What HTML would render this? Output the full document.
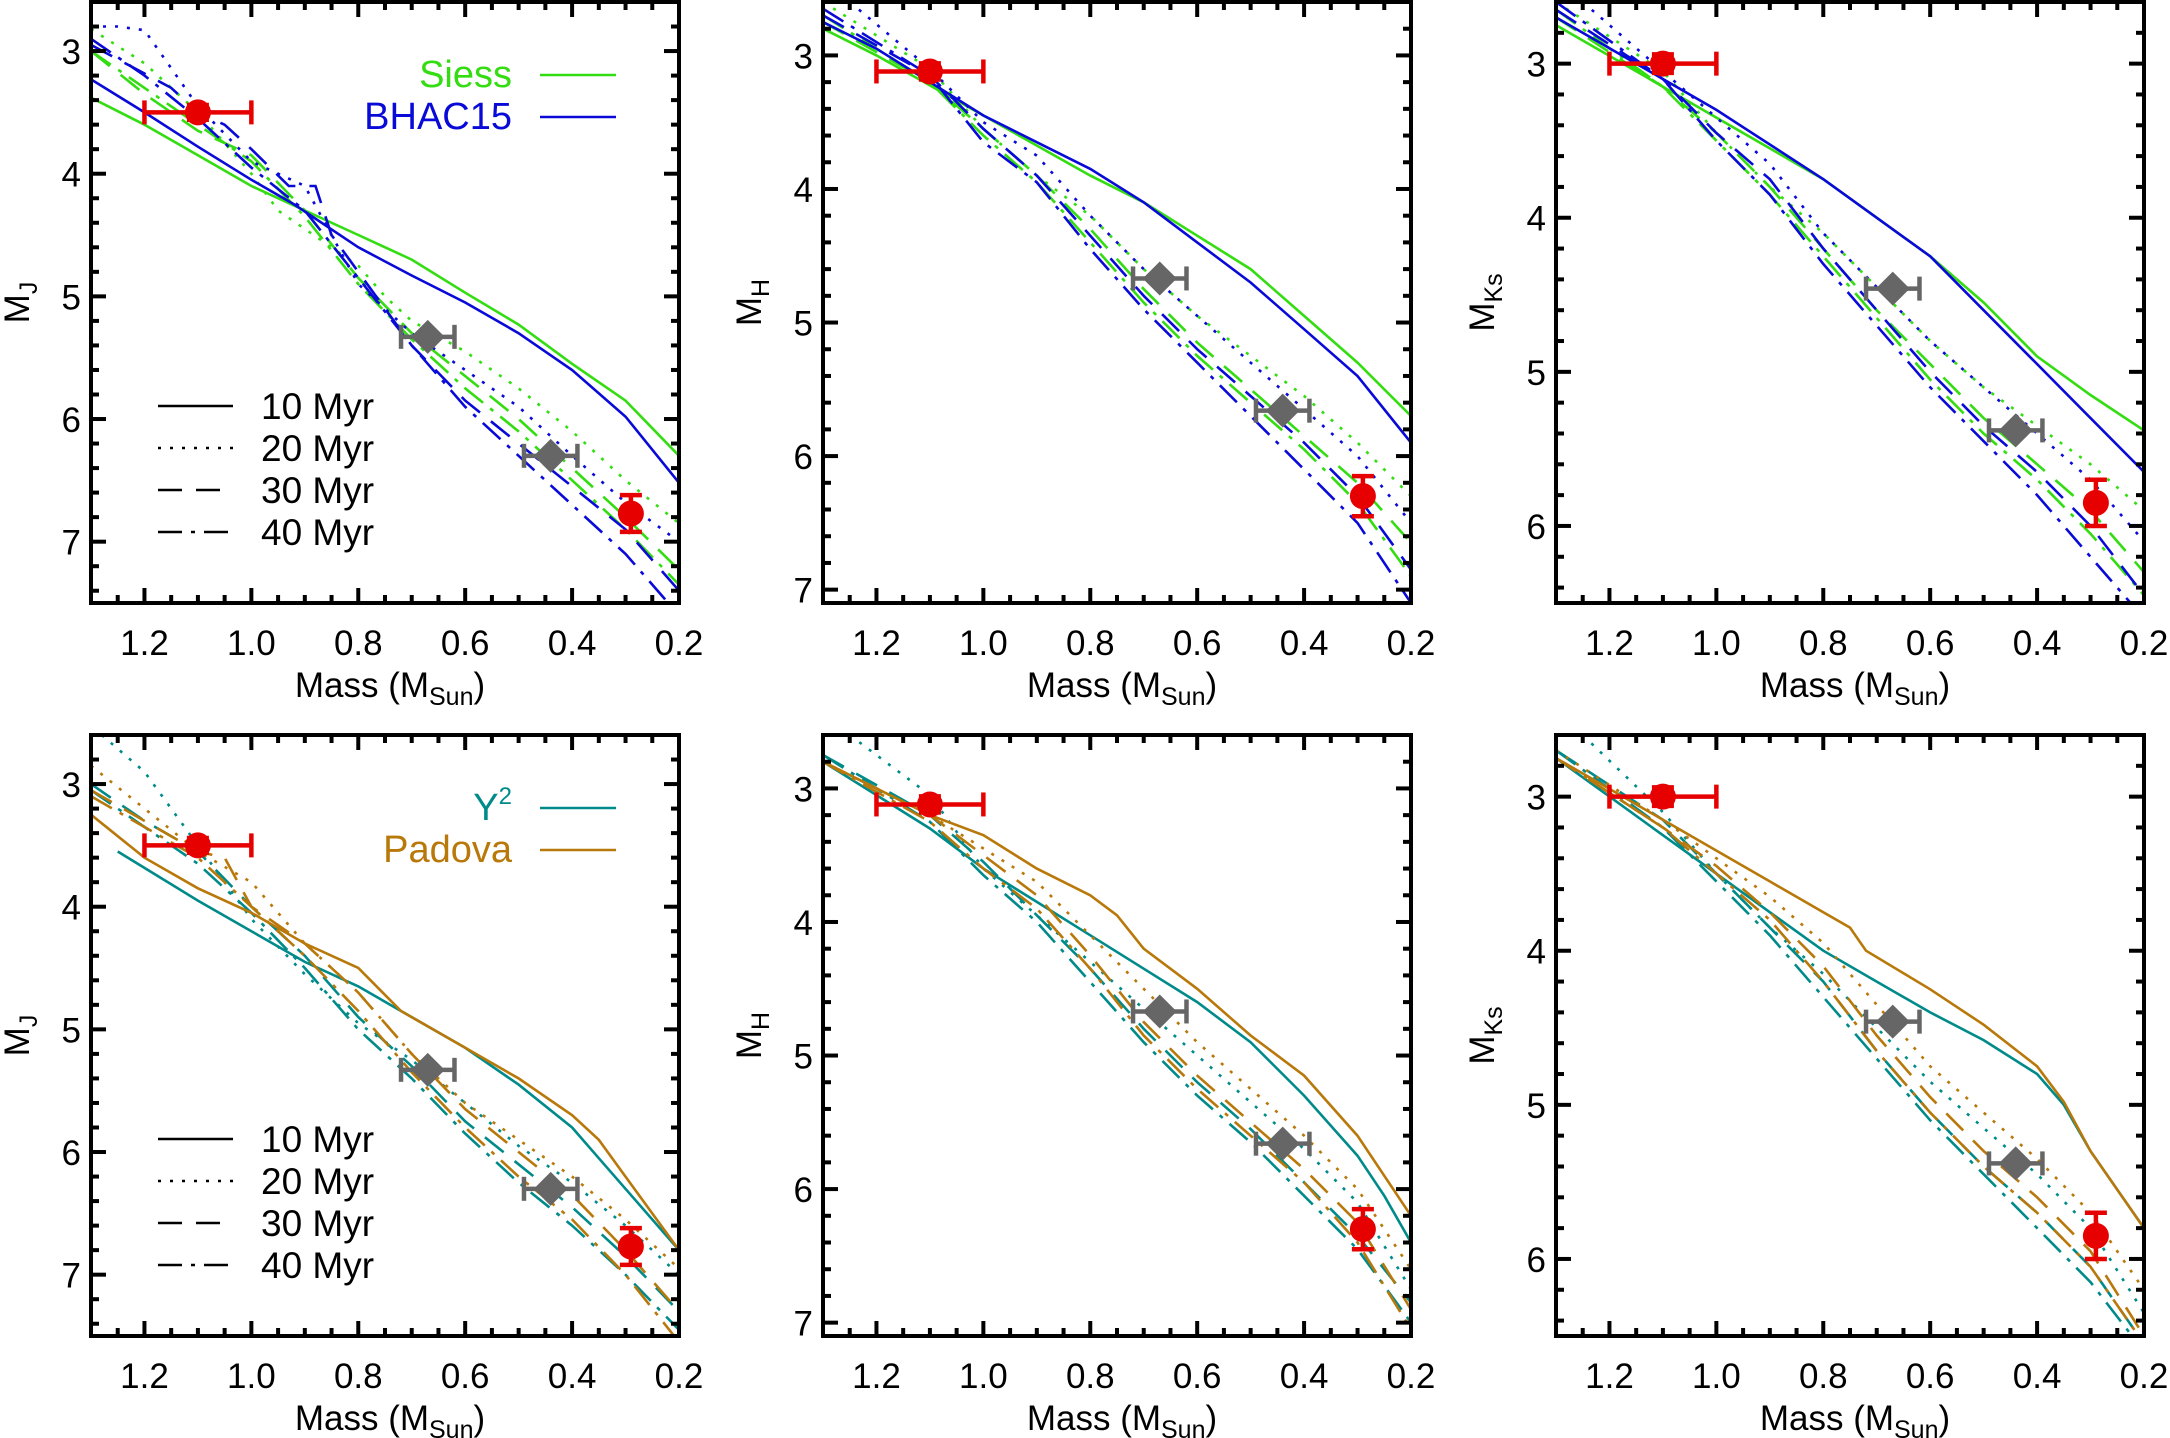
<!DOCTYPE html>
<html><head><meta charset="utf-8"><style>
html,body{margin:0;padding:0;background:#fff;}
svg{display:block;font-family:"Liberation Sans",Arial,sans-serif;}
</style></head><body>
<svg id="fig" width="2170" height="1438" viewBox="0 0 2170 1438" xmlns="http://www.w3.org/2000/svg"></svg>
<script>
// ---- data: [mass, absolute magnitude] ----
const siessJ10=[[1.3,3.38],[1.2,3.6],[1.1,3.85],[1.0,4.1],[0.9,4.3],[0.8,4.5],[0.7,4.7],[0.6,4.97],[0.5,5.23],[0.4,5.55],[0.3,5.85],[0.2,6.3]];
const siessJ20=[[1.3,2.82],[1.2,3.1],[1.1,3.5],[1.0,4.0],[0.95,4.3],[0.9,4.45],[0.8,4.75],[0.75,5.0],[0.7,5.2],[0.6,5.45],[0.5,5.75],[0.4,6.1],[0.3,6.5],[0.2,6.85]];
const siessJ30=[[1.3,3.0],[1.2,3.35],[1.1,3.65],[1.0,3.85],[0.9,4.3],[0.8,4.85],[0.7,5.3],[0.6,5.65],[0.5,6.0],[0.4,6.4],[0.3,6.8],[0.2,7.23]];
const siessJ40=[[1.3,3.0],[1.2,3.3],[1.1,3.6],[1.0,3.9],[0.9,4.35],[0.8,4.9],[0.7,5.35],[0.6,5.75],[0.5,6.1],[0.4,6.5],[0.3,6.9],[0.2,7.35]];
const bhacJ10=[[1.3,3.23],[1.2,3.5],[1.1,3.78],[1.0,4.05],[0.92,4.25],[0.8,4.6],[0.7,4.83],[0.6,5.05],[0.5,5.3],[0.4,5.6],[0.3,5.98],[0.2,6.52]];
const bhacJ20=[[1.3,2.8],[1.25,2.8],[1.2,2.83],[1.1,3.45],[1.0,3.9],[0.9,4.1],[0.85,4.5],[0.8,4.9],[0.7,5.3],[0.6,5.6],[0.5,5.9],[0.4,6.3],[0.3,6.68],[0.2,7.0]];
const bhacJ30=[[1.3,2.95],[1.15,3.3],[1.1,3.5],[1.05,3.6],[1.0,3.8],[0.93,4.1],[0.88,4.1],[0.85,4.5],[0.75,5.1],[0.7,5.4],[0.6,5.85],[0.5,6.2],[0.4,6.55],[0.3,6.9],[0.2,7.4]];
const bhacJ40=[[1.3,2.9],[1.2,3.2],[1.1,3.55],[1.0,3.95],[0.9,4.3],[0.8,4.85],[0.7,5.4],[0.6,5.9],[0.5,6.3],[0.4,6.7],[0.3,7.1],[0.2,7.6]];
const siessH10=[[1.3,2.8],[1.2,3.0],[1.0,3.45],[0.8,3.9],[0.7,4.1],[0.6,4.35],[0.5,4.6],[0.4,4.95],[0.3,5.3],[0.2,5.7]];
const siessH20=[[1.3,2.6],[1.1,3.1],[1.0,3.55],[0.9,3.9],[0.8,4.2],[0.7,4.6],[0.6,4.95],[0.5,5.25],[0.4,5.55],[0.3,5.9],[0.2,6.3]];
const siessH30=[[1.3,2.75],[1.1,3.2],[1.0,3.55],[0.9,3.9],[0.8,4.3],[0.7,4.75],[0.6,5.15],[0.5,5.5],[0.4,5.85],[0.3,6.2],[0.2,6.65]];
const siessH40=[[1.3,2.7],[1.1,3.2],[1.0,3.6],[0.9,3.95],[0.8,4.4],[0.7,4.85],[0.6,5.25],[0.5,5.6],[0.4,5.95],[0.3,6.35],[0.2,6.9]];
const bhacH10=[[1.3,2.75],[1.2,2.95],[1.0,3.45],[0.8,3.85],[0.7,4.1],[0.6,4.4],[0.5,4.7],[0.4,5.05],[0.3,5.4],[0.2,5.9]];
const bhacH20=[[1.25,2.6],[1.1,3.1],[1.0,3.5],[0.9,3.75],[0.8,4.2],[0.7,4.6],[0.6,4.95],[0.5,5.3],[0.4,5.65],[0.3,6.0],[0.2,6.5]];
const bhacH30=[[1.3,2.7],[1.1,3.15],[1.0,3.55],[0.9,3.9],[0.8,4.35],[0.7,4.8],[0.6,5.2],[0.5,5.55],[0.4,5.9],[0.3,6.3],[0.2,6.85]];
const bhacH40=[[1.3,2.65],[1.1,3.15],[1.0,3.65],[0.9,3.95],[0.8,4.45],[0.7,4.9],[0.6,5.3],[0.5,5.7],[0.4,6.1],[0.3,6.5],[0.2,7.1]];
const siessK10=[[1.3,2.75],[1.2,2.95],[1.0,3.35],[0.8,3.75],[0.6,4.25],[0.5,4.55],[0.4,4.9],[0.3,5.15],[0.2,5.38]];
const siessK20=[[1.3,2.6],[1.1,3.05],[1.0,3.45],[0.9,3.8],[0.8,4.1],[0.7,4.45],[0.6,4.8],[0.5,5.1],[0.4,5.35],[0.3,5.6],[0.2,5.9]];
const siessK30=[[1.3,2.7],[1.1,3.15],[1.0,3.45],[0.9,3.8],[0.8,4.2],[0.7,4.6],[0.6,4.95],[0.5,5.3],[0.4,5.6],[0.3,5.9],[0.2,6.3]];
const siessK40=[[1.3,2.65],[1.1,3.15],[1.0,3.5],[0.9,3.85],[0.8,4.25],[0.7,4.65],[0.6,5.05],[0.5,5.4],[0.4,5.7],[0.3,6.05],[0.2,6.45]];
const bhacK10=[[1.3,2.7],[1.2,2.9],[1.0,3.3],[0.8,3.75],[0.6,4.25],[0.5,4.6],[0.4,4.95],[0.3,5.3],[0.2,5.65]];
const bhacK20=[[1.25,2.6],[1.1,3.05],[1.0,3.35],[0.9,3.65],[0.8,4.1],[0.7,4.45],[0.6,4.8],[0.5,5.1],[0.4,5.4],[0.3,5.7],[0.2,6.1]];
const bhacK30=[[1.3,2.65],[1.1,3.1],[1.0,3.45],[0.9,3.75],[0.8,4.2],[0.7,4.6],[0.6,5.0],[0.5,5.35],[0.4,5.65],[0.3,6.0],[0.2,6.45]];
const bhacK40=[[1.3,2.6],[1.1,3.1],[1.0,3.5],[0.9,3.85],[0.8,4.3],[0.7,4.7],[0.6,5.1],[0.5,5.45],[0.4,5.8],[0.3,6.2],[0.2,6.6]];
const y2J10=[[1.25,3.55],[1.1,3.95],[1.0,4.2],[0.9,4.45],[0.8,4.65],[0.7,4.9],[0.6,5.15],[0.5,5.45],[0.4,5.8],[0.35,6.05],[0.3,6.3],[0.25,6.55],[0.2,6.8]];
const y2J20=[[1.28,2.6],[1.2,2.9],[1.1,3.5],[1.0,4.1],[0.9,4.55],[0.8,4.95],[0.7,5.25],[0.6,5.6],[0.5,5.95],[0.4,6.25],[0.3,6.6],[0.2,7.0]];
const y2J30=[[1.3,3.0],[1.2,3.3],[1.1,3.55],[1.0,4.0],[0.9,4.4],[0.8,4.9],[0.7,5.3],[0.6,5.75],[0.5,6.1],[0.4,6.45],[0.3,6.85],[0.2,7.3]];
const y2J40=[[1.3,3.05],[1.2,3.35],[1.1,3.65],[1.0,4.05],[0.9,4.5],[0.8,5.0],[0.7,5.4],[0.6,5.85],[0.5,6.25],[0.4,6.6],[0.3,7.0],[0.2,7.45]];
const padJ10=[[1.3,3.25],[1.2,3.6],[1.1,3.85],[1.0,4.05],[0.9,4.3],[0.8,4.5],[0.72,4.85],[0.6,5.15],[0.5,5.4],[0.4,5.7],[0.35,5.9],[0.3,6.2],[0.2,6.8]];
const padJ20=[[1.3,2.85],[1.2,3.2],[1.1,3.55],[1.0,3.8],[0.9,4.3],[0.8,4.7],[0.7,5.2],[0.6,5.6],[0.5,5.9],[0.4,6.2],[0.3,6.55],[0.2,6.95]];
const padJ30=[[1.3,3.05],[1.2,3.3],[1.1,3.55],[1.05,3.6],[1.0,4.0],[0.9,4.3],[0.8,4.7],[0.7,5.2],[0.6,5.65],[0.5,6.0],[0.4,6.35],[0.3,6.8],[0.2,7.3]];
const padJ40=[[1.3,3.1],[1.2,3.35],[1.1,3.6],[1.0,4.0],[0.9,4.4],[0.8,4.85],[0.7,5.35],[0.6,5.8],[0.5,6.2],[0.4,6.55],[0.3,7.0],[0.2,7.55]];
const y2H10=[[1.3,2.8],[1.2,3.05],[1.1,3.3],[1.0,3.6],[0.9,3.85],[0.8,4.1],[0.7,4.35],[0.6,4.6],[0.5,4.9],[0.4,5.3],[0.3,5.75],[0.25,6.05],[0.2,6.4]];
const y2H20=[[1.25,2.6],[1.1,3.05],[1.0,3.6],[0.9,3.95],[0.8,4.3],[0.7,4.65],[0.6,5.0],[0.5,5.35],[0.4,5.7],[0.3,6.1],[0.2,6.75]];
const y2H30=[[1.3,2.75],[1.1,3.2],[1.0,3.55],[0.9,3.95],[0.8,4.35],[0.7,4.8],[0.6,5.2],[0.5,5.55],[0.4,5.95],[0.3,6.35],[0.2,6.85]];
const y2H40=[[1.3,2.75],[1.1,3.25],[1.0,3.65],[0.9,4.0],[0.8,4.45],[0.7,4.9],[0.6,5.3],[0.5,5.65],[0.4,6.05],[0.3,6.45],[0.2,7.0]];
const padH10=[[1.3,2.8],[1.2,3.0],[1.1,3.2],[1.0,3.35],[0.9,3.6],[0.8,3.8],[0.75,3.95],[0.7,4.2],[0.6,4.5],[0.5,4.85],[0.4,5.15],[0.3,5.6],[0.2,6.2]];
const padH20=[[1.3,2.8],[1.1,3.2],[1.0,3.45],[0.9,3.7],[0.8,4.1],[0.7,4.5],[0.6,4.9],[0.5,5.25],[0.4,5.6],[0.3,6.0],[0.2,6.6]];
const padH30=[[1.3,2.8],[1.1,3.2],[1.0,3.5],[0.9,3.8],[0.8,4.25],[0.7,4.75],[0.6,5.15],[0.5,5.5],[0.4,5.85],[0.3,6.25],[0.2,6.9]];
const padH40=[[1.3,2.8],[1.1,3.25],[1.0,3.6],[0.9,3.9],[0.8,4.35],[0.7,4.85],[0.6,5.25],[0.5,5.6],[0.4,5.95],[0.3,6.4],[0.2,7.05]];
const y2K10=[[1.3,2.75],[1.2,3.0],[1.1,3.25],[1.0,3.5],[0.9,3.75],[0.8,4.0],[0.7,4.2],[0.6,4.4],[0.5,4.58],[0.4,4.8],[0.35,5.0],[0.3,5.3],[0.2,5.8]];
const y2K20=[[1.25,2.6],[1.1,3.1],[1.0,3.5],[0.9,3.85],[0.8,4.15],[0.7,4.5],[0.6,4.85],[0.5,5.15],[0.4,5.45],[0.3,5.8],[0.2,6.35]];
const y2K30=[[1.3,2.7],[1.1,3.15],[1.0,3.5],[0.9,3.85],[0.8,4.2],[0.7,4.65],[0.6,5.05],[0.5,5.4],[0.4,5.7],[0.3,6.05],[0.2,6.55]];
const y2K40=[[1.3,2.7],[1.1,3.2],[1.0,3.55],[0.9,3.9],[0.8,4.3],[0.7,4.7],[0.6,5.1],[0.5,5.45],[0.4,5.8],[0.3,6.15],[0.2,6.6]];
const padK10=[[1.3,2.75],[1.2,2.95],[1.1,3.15],[1.0,3.35],[0.9,3.55],[0.8,3.75],[0.75,3.85],[0.72,4.0],[0.6,4.25],[0.5,4.48],[0.4,4.75],[0.35,4.98],[0.3,5.3],[0.2,5.8]];
const padK20=[[1.3,2.7],[1.1,3.15],[1.0,3.4],[0.9,3.65],[0.8,3.95],[0.7,4.35],[0.6,4.75],[0.5,5.05],[0.4,5.35],[0.3,5.7],[0.2,6.2]];
const padK30=[[1.3,2.75],[1.1,3.2],[1.0,3.45],[0.9,3.75],[0.8,4.1],[0.7,4.55],[0.6,4.95],[0.5,5.3],[0.4,5.6],[0.3,5.95],[0.2,6.5]];
const padK40=[[1.3,2.75],[1.1,3.2],[1.0,3.5],[0.9,3.8],[0.8,4.2],[0.7,4.65],[0.6,5.05],[0.5,5.4],[0.4,5.7],[0.3,6.05],[0.2,6.55]];
// observed stars
const starMass=[1.1,0.29,0.67,0.44];
const starMassLo=[1.0,0.29,0.62,0.39];
const starMassHi=[1.2,0.29,0.72,0.49];
const starJ=[3.5,6.77,5.33,6.3];
const starH=[3.12,6.3,4.67,5.66];
const starK=[3.0,5.85,4.46,5.38];
const starErr=[0.06,0.15,0,0];
const starType=['circle','circle','diamond','diamond'];
const bandNames=['J','H','Ks'];
const yRanges=[[2.6,7.5],[2.6,7.1],[2.6,6.5]];
const yTicks=[[3,4,5,6,7],[3,4,5,6,7],[3,4,5,6]];
const xTicks=[1.2,1.0,0.8,0.6,0.4,0.2];
const xTickLabels=['1.2','1.0','0.8','0.6','0.4','0.2'];
const ages=['10 Myr','20 Myr','30 Myr','40 Myr'];

const NS='http://www.w3.org/2000/svg';
const svg=document.getElementById('fig');
function mk(tag,attrs,parent){const e=document.createElementNS(NS,tag);for(const k in attrs)e.setAttribute(k,attrs[k]);(parent||svg).appendChild(e);return e;}
const PX=[91,823,1556], PY=[2,735], PW=588, PH=601;
const dashes=['none','3,9','24,14','24,9,4,9'];
const rows=[
 {models:[{name:'Siess',color:'#33dd11',curves:[[siessJ10,siessJ20,siessJ30,siessJ40],[siessH10,siessH20,siessH30,siessH40],[siessK10,siessK20,siessK30,siessK40]]},
          {name:'BHAC15',color:'#0a0ad8',curves:[[bhacJ10,bhacJ20,bhacJ30,bhacJ40],[bhacH10,bhacH20,bhacH30,bhacH40],[bhacK10,bhacK20,bhacK30,bhacK40]]}]},
 {models:[{name:'Y2',color:'#008a8a',curves:[[y2J10,y2J20,y2J30,y2J40],[y2H10,y2H20,y2H30,y2H40],[y2K10,y2K20,y2K30,y2K40]]},
          {name:'Padova',color:'#b8780a',curves:[[padJ10,padJ20,padJ30,padJ40],[padH10,padH20,padH30,padH40],[padK10,padK20,padK30,padK40]]}]}
];
const starMags=[starJ,starH,starK];

rows.forEach((row,r)=>{
 for(let b=0;b<3;b++){
  const x0=PX[b], y0=PY[r];
  const [ymin,ymax]=yRanges[b];
  const sx=m=>x0+(1.3-m)/1.1*PW;
  const sy=v=>y0+(v-ymin)/(ymax-ymin)*PH;
  const g=mk('g',{});
  
  
  const cid='clip'+r+b;
  const cp=mk('clipPath',{id:cid},g);
  mk('rect',{x:x0,y:y0,width:PW,height:PH},cp);
  const plot=mk('g',{'clip-path':'url(#'+cid+')'},g);
  row.models.forEach(model=>{
   model.curves[b].forEach((c,a)=>{
    const d=c.map((p,i)=>(i?'L':'M')+sx(p[0]).toFixed(1)+','+sy(p[1]).toFixed(1)).join('');
    const p=mk('path',{d:d,fill:'none',stroke:model.color,'stroke-width':2.6,'stroke-dasharray':dashes[a]},plot);
    
    
   });
  });
  starMass.forEach((m,i)=>{
   const v=starMags[b][i];
   const red=starType[i]==='circle';
   const col=red?'#e60000':'#666';
   const sg=mk('g',{},plot);
   
   
   const cx=sx(m), cy=sy(v);
   if(starMassHi[i]>starMassLo[i]){
    const xl=sx(starMassHi[i]), xr=sx(starMassLo[i]);
    mk('line',{x1:xl,y1:cy,x2:xr,y2:cy,stroke:col,'stroke-width':4.5},sg);
    mk('line',{x1:xl,y1:cy-12,x2:xl,y2:cy+12,stroke:col,'stroke-width':4.5},sg);
    mk('line',{x1:xr,y1:cy-12,x2:xr,y2:cy+12,stroke:col,'stroke-width':4.5},sg);
   }
   if(starErr[i]>0){
    const yt=sy(v-starErr[i]), yb=sy(v+starErr[i]);
    mk('line',{x1:cx,y1:yt,x2:cx,y2:yb,stroke:col,'stroke-width':4.5},sg);
    mk('line',{x1:cx-11,y1:yt,x2:cx+11,y2:yt,stroke:col,'stroke-width':4.5},sg);
    mk('line',{x1:cx-11,y1:yb,x2:cx+11,y2:yb,stroke:col,'stroke-width':4.5},sg);
   }
   if(red) mk('circle',{cx:cx,cy:cy,r:13,fill:col},sg);
   else mk('polygon',{points:`${cx},${cy-17} ${cx+17},${cy} ${cx},${cy+17} ${cx-17},${cy}`,fill:col},sg);
  });
  const tk=mk('g',{stroke:'#000','stroke-width':4},g);
  for(let k=0;k<=22;k++){
   const m=1.3-k*0.05; const x=sx(m);
   const major=Math.abs((m*10)%2)<0.01||Math.abs((m*10)%2-2)<0.01;
   const L=major?15:8;
   mk('line',{x1:x,y1:y0+PH,x2:x,y2:y0+PH-L},tk);
   mk('line',{x1:x,y1:y0,x2:x,y2:y0+L},tk);
  }
  for(let v=Math.ceil(ymin*5)/5;v<=ymax+1e-6;v+=0.2){
   const y=sy(v); const major=Math.abs(v-Math.round(v))<0.01;
   const L=major?15:8;
   mk('line',{x1:x0,y1:y,x2:x0+L,y2:y},tk);
   mk('line',{x1:x0+PW,y1:y,x2:x0+PW-L,y2:y},tk);
  }
  mk('rect',{x:x0,y:y0,width:PW,height:PH,fill:'none',stroke:'#000','stroke-width':4},g);
  xTicks.forEach((m,i)=>{
   const t=mk('text',{x:sx(m),y:y0+PH+52,'font-size':35,'text-anchor':'middle'},g);
   t.textContent=xTickLabels[i];
   
   
  });
  yTicks[b].forEach(v=>{
   const t=mk('text',{x:x0-10,y:sy(v)+13,'font-size':35,'text-anchor':'end'},g);
   t.textContent=String(v);
   
   
  });
  const xt=mk('text',{x:x0+PW/2+5,y:y0+PH+94,'font-size':35,'text-anchor':'middle'},g);
  
  
  xt.appendChild(document.createTextNode('Mass '+(b===2?' ':'')+'(M'));
  const sub=mk('tspan',{'font-size':25,dy:8},xt); sub.textContent='Sun';
  const cl=mk('tspan',{dy:-8},xt); cl.textContent=')';
  const yt=mk('text',{x:0,y:0,'font-size':35,'text-anchor':'middle',transform:`translate(${x0-62},${y0+PH/2}) rotate(-90)`},g);
  
  
  yt.appendChild(document.createTextNode('M'));
  const ys=mk('tspan',{'font-size':25,dy:8},yt); ys.textContent=bandNames[b];
  if(b===0){
   row.models.forEach((model,mi)=>{
    const lg=mk('g',{},g);
    
    
    const ly=y0+73+mi*42;
    const t=mk('text',{x:x0+421,y:ly+12,'font-size':38,'text-anchor':'end',fill:model.color},lg);
    if(model.name==='Y2'){t.appendChild(document.createTextNode('Y'));const s=mk('tspan',{'font-size':24,dy:-16},t);s.textContent='2';}
    else t.textContent=model.name;
    mk('line',{x1:x0+449,y1:ly,x2:x0+525,y2:ly,stroke:model.color,'stroke-width':2.6},lg);
   });
   ages.forEach((a,i)=>{
    const lg=mk('g',{},g);
    
    
    const ly=y0+404+i*42;
    mk('line',{x1:x0+67,y1:ly,x2:x0+142,y2:ly,stroke:'#000','stroke-width':2.6,'stroke-dasharray':dashes[i]},lg);
    const t=mk('text',{x:x0+170,y:ly+13,'font-size':37},lg); t.textContent=a;
   });
  }
 }
});
</script>
</body></html>
